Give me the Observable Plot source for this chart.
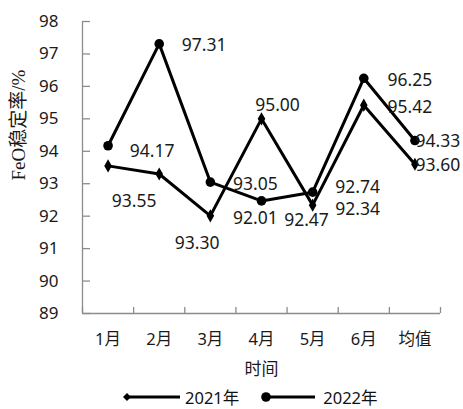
<!DOCTYPE html>
<html><head><meta charset="utf-8">
<script src="https://cdn.jsdelivr.net/npm/d3@7"></script>
<script src="https://cdn.jsdelivr.net/npm/@observablehq/plot@0.6"></script>
<style>
body{margin:0;background:#fff;font-family:"Noto Sans","Noto Sans CJK SC",sans-serif;}
#wrap{position:relative;width:463px;height:409px;}
#legend{position:absolute;left:0;top:385px;height:24px;width:463px;display:flex;align-items:center;padding-left:123px;box-sizing:border-box;font-size:16.5px;color:#111;font-family:"Noto Sans","Noto Sans CJK SC",sans-serif;}
#legend .item{display:flex;align-items:center;}
#legend svg{display:block;}
</style>
</head><body><div id="wrap"><div id="chart"></div><div id="legend"></div></div>
<script>
const categories = ["1月","2月","3月","4月","5月","6月","均值"];
const values2021 = [93.55, 93.30, 92.01, 95.00, 92.34, 95.42, 93.60];
const values2022 = [94.17, 97.31, 93.05, 92.47, 92.74, 96.25, 94.33];
const yTicks = [89, 90, 91, 92, 93, 94, 95, 96, 97, 98];
const seriesNames = ["2021年", "2022年"];
const yLabel = "FeO稳定率/%";
const xLabel = "时间";

// label placement (pixel offsets from each point), layout only
const offsets2021 = [[26,36],[38,69],[45,3],[16,-13],[45,4],[46,2],[23,1]];
const offsets2022 = [[44,6],[45,2],[45,2],[45,19],[45,-5],[46,2],[23,1]];

const W = 463, H = 385, mL = 82, mR = 23, mT = 21, mB = 72;
const yMin = d3.min(yTicks), yMax = d3.max(yTicks);
const n = categories.length;
const pxPerX = (W - mL - mR) / n;
const pxPerY = (H - mT - mB) / (yMax - yMin);
const boundaries = d3.range(n + 1).map(i => i - 0.5);

const rows = (vals) => vals.map((v, i) => ({i, v, label: v.toFixed(2)}));
const r2021 = rows(values2021), r2022 = rows(values2022);

const axisColor = "#8c8c8c";
const numFont = "Noto Sans, Noto Sans CJK SC, sans-serif";

const labelMarks = [];
[[r2021, offsets2021], [r2022, offsets2022]].forEach(([rs, offs]) => {
  rs.forEach((d, k) => {
    labelMarks.push(Plot.text([d], {x: "i", y: "v", text: "label", dx: offs[k][0], dy: offs[k][1],
      fontSize: 17.5, fill: "#1a1a1a", fontFamily: numFont}));
  });
});

const chart = Plot.plot({
  width: W, height: H,
  marginLeft: mL, marginRight: mR, marginTop: mT, marginBottom: mB,
  style: {fontFamily: numFont, background: "#fff"},
  x: {domain: [-0.5, n - 0.5]},
  y: {domain: [yMin, yMax]},
  marks: [
    Plot.ruleY([yMin], {x1: -0.5, x2: n - 0.5, stroke: axisColor, strokeWidth: 1.3}),
    Plot.ruleX([-0.5], {y1: yMin, y2: yMax, stroke: axisColor, strokeWidth: 1.3}),
    Plot.ruleY(yTicks, {x1: -0.5, x2: -0.5 + 8 / pxPerX, stroke: axisColor, strokeWidth: 1.3}),
    Plot.ruleX(boundaries, {y1: yMin, y2: yMin + 6 / pxPerY, stroke: axisColor, strokeWidth: 1.3}),
    Plot.axisY({ticks: yTicks, tickSize: 0, tickPadding: 24, fontSize: 17, fill: "#1a1a1a", label: null}),
    Plot.axisX({ticks: d3.range(n), tickFormat: i => categories[i], tickSize: 0, tickPadding: 20, fontSize: 16.5, fill: "#1a1a1a", label: null}),
    Plot.line(r2021, {x: "i", y: "v", stroke: "#000", strokeWidth: 3}),
    Plot.line(r2022, {x: "i", y: "v", stroke: "#000", strokeWidth: 3}),
    Plot.dot(r2021, {x: "i", y: "v", symbol: "diamond", r: 4, fill: "#000"}),
    Plot.dot(r2022, {x: "i", y: "v", symbol: "circle", r: 4.8, fill: "#000"}),
    ...labelMarks,
    Plot.text([yLabel], {text: d => d, frameAnchor: "left", rotate: -90, dx: -64, dy: 13, fontSize: 19,
      fill: "#1a1a1a", fontFamily: "Liberation Serif, Noto Sans CJK SC, serif", lineAnchor: "middle"}),
    Plot.text([xLabel], {text: d => d, frameAnchor: "bottom", dy: 56, fontSize: 17, fill: "#1a1a1a", lineAnchor: "middle"})
  ]
});
document.getElementById("chart").appendChild(chart);

// legend
const legend = d3.select("#legend");
seriesNames.forEach((name, k) => {
  const item = legend.append("div").attr("class", "item").style("margin-right", k === 0 ? "22px" : "0");
  const svg = item.append("svg").attr("width", 57).attr("height", 14);
  svg.append("line").attr("x1", 4).attr("x2", k === 0 ? 57 : 54).attr("y1", 7).attr("y2", 7)
    .attr("stroke", "#000").attr("stroke-width", 3);
  if (k === 0) {
    svg.append("path").attr("d", d3.symbol(d3.symbolDiamond2 || d3.symbolDiamond, 40)()).attr("transform", "translate(4,7)").attr("fill", "#000");
  } else {
    svg.append("circle").attr("cx", 5).attr("cy", 7).attr("r", 4.8).attr("fill", "#000");
  }
  item.append("span").text(name).style("margin-left", "5px");
});
</script></body></html>
